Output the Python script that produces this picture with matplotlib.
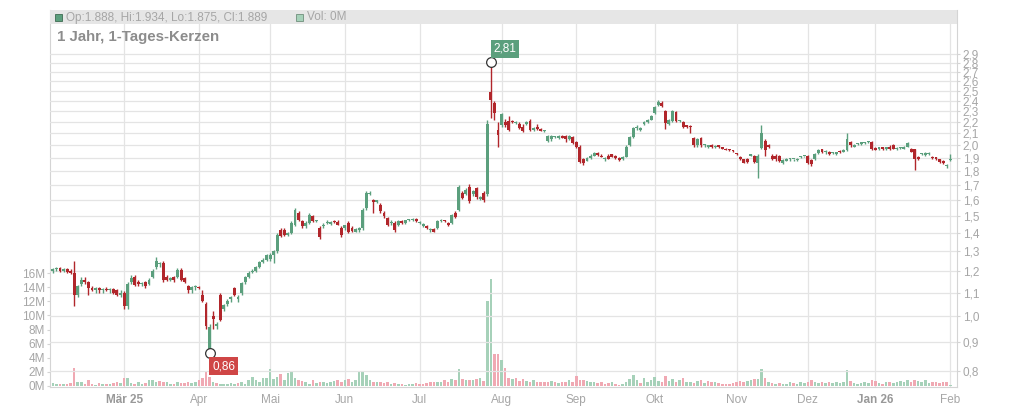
import matplotlib
matplotlib.use("Agg")
import matplotlib.pyplot as plt
import numpy as np
import pandas as pd
from matplotlib.ticker import FixedLocator, FixedFormatter, NullLocator
from matplotlib.patches import Rectangle

plt.rcParams['font.family'] = ['Liberation Sans', 'DejaVu Sans']

# ---------------- data ----------------
holidays = ["2025-04-18", "2025-04-21", "2025-05-01", "2025-12-24",
            "2025-12-25", "2025-12-26", "2025-12-31", "2026-01-01"]

opens = [
    # Feb 25
    1.20, 1.21, 1.215, 1.20, 1.21, 1.20, 1.19, 1.09, 1.14, 1.16, 1.15, 1.12, 1.11, 1.12, 1.11, 1.115, 1.11, 1.115, 1.11, 1.09,
    # Mar
    1.10, 1.04, 1.15, 1.17, 1.15, 1.14, 1.15, 1.14, 1.17, 1.22, 1.235, 1.24, 1.17, 1.16, 1.17, 1.17, 1.205, 1.165, 1.13, 1.11, 1.125,
    # Apr
    1.125, 1.09, 1.05, 0.875, 1.00, 0.96, 1.09, 1.03, 1.05, 1.07, 1.12, 1.07, 1.10, 1.15, 1.17, 1.195, 1.20, 1.22, 1.245, 1.255,
    # May
    1.26, 1.28, 1.30, 1.42, 1.42, 1.39, 1.40, 1.45, 1.52, 1.47, 1.44, 1.46, 1.50, 1.47, 1.43, 1.44, 1.46, 1.455, 1.47, 1.465, 1.43,
    # Jun
    1.43, 1.46, 1.43, 1.41, 1.42, 1.43, 1.55, 1.645, 1.60, 1.59, 1.57, 1.52, 1.49, 1.46, 1.46, 1.45, 1.47, 1.46, 1.475, 1.475, 1.485,
    # Jul
    1.46, 1.44, 1.44, 1.42, 1.425, 1.43, 1.47, 1.475, 1.46, 1.46, 1.52, 1.54, 1.65, 1.64, 1.69, 1.64, 1.68, 1.61, 1.65, 1.64, 2.49, 2.38, 2.13,
    # Aug
    2.17, 2.20, 2.21, 2.21, 2.19, 2.18, 2.16, 2.18, 2.21, 2.13, 2.16, 2.14, 2.12, 2.04, 2.05, 2.07, 2.06, 2.08, 2.08, 2.05, 2.07,
    # Sep
    2.03, 1.99, 1.89, 1.88, 1.90, 1.92, 1.94, 1.92, 1.89, 1.92, 1.93, 1.915, 1.90, 1.89, 1.91, 2.00, 2.07, 2.15, 2.13, 2.18, 2.20, 2.22,
    # Oct
    2.28, 2.36, 2.38, 2.30, 2.18, 2.21, 2.29, 2.21, 2.20, 2.17, 2.165, 2.06, 2.00, 2.06, 2.00, 1.99, 2.00, 1.985, 2.00, 1.985, 1.975, 1.97, 1.96,
    # Nov
    1.935, 1.91, 1.89, 1.89, 1.92, 1.92, 1.86, 1.98, 2.04, 2.00, 1.92, 1.92, 1.92, 1.86, 1.88, 1.89, 1.89, 1.885, 1.91, 1.915,
    # Dec
    1.92, 1.885, 1.89, 1.94, 1.97, 1.945, 1.95, 1.94, 1.93, 1.955, 1.95, 1.96, 2.03, 1.99, 2.01, 2.01, 2.02, 2.025, 2.03,
    # Jan 26
    1.98, 1.97, 1.985, 1.97, 1.99, 2.00, 1.97, 1.98, 1.975, 1.99, 1.975, 1.97, 1.91, 1.93, 1.925, 1.93, 1.91, 1.905, 1.89, 1.88, 1.84,
    # Feb
    1.888,
]

highs = [
    1.215, 1.22, 1.22, 1.215, 1.215, 1.21, 1.25, 1.135, 1.17, 1.17, 1.155, 1.13, 1.125, 1.125, 1.12, 1.125, 1.12, 1.12, 1.115, 1.11,
    1.105, 1.15, 1.18, 1.18, 1.16, 1.15, 1.155, 1.165, 1.21, 1.27, 1.245, 1.25, 1.18, 1.17, 1.175, 1.215, 1.215, 1.17, 1.135, 1.13, 1.135,
    1.13, 1.11, 1.06, 0.97, 1.02, 0.975, 1.10, 1.05, 1.07, 1.085, 1.125, 1.09, 1.15, 1.175, 1.20, 1.21, 1.225, 1.25, 1.265, 1.285,
    1.29, 1.31, 1.40, 1.43, 1.43, 1.41, 1.47, 1.55, 1.53, 1.48, 1.47, 1.52, 1.51, 1.48, 1.44, 1.46, 1.48, 1.47, 1.48, 1.475, 1.44,
    1.45, 1.47, 1.44, 1.43, 1.435, 1.55, 1.66, 1.66, 1.61, 1.605, 1.58, 1.53, 1.495, 1.475, 1.47, 1.48, 1.475, 1.48, 1.485, 1.49, 1.49,
    1.47, 1.46, 1.445, 1.43, 1.43, 1.48, 1.485, 1.48, 1.465, 1.515, 1.53, 1.70, 1.66, 1.68, 1.71, 1.67, 1.69, 1.63, 1.66, 2.22, 2.81, 2.40, 2.20,
    2.28, 2.23, 2.25, 2.22, 2.21, 2.20, 2.18, 2.21, 2.23, 2.16, 2.18, 2.15, 2.13, 2.085, 2.09, 2.08, 2.085, 2.09, 2.09, 2.085, 2.08,
    2.04, 2.00, 1.90, 1.91, 1.93, 1.95, 1.945, 1.93, 1.91, 1.93, 1.935, 1.925, 1.905, 1.915, 2.00, 2.08, 2.16, 2.17, 2.16, 2.21, 2.23, 2.26,
    2.35, 2.41, 2.40, 2.31, 2.23, 2.31, 2.30, 2.22, 2.21, 2.175, 2.17, 2.07, 2.06, 2.07, 2.01, 2.005, 2.01, 2.00, 2.005, 1.99, 1.98, 1.975, 1.965,
    1.94, 1.915, 1.895, 1.90, 1.935, 1.925, 1.93, 2.17, 2.05, 2.01, 1.93, 1.93, 1.925, 1.89, 1.90, 1.90, 1.895, 1.90, 1.92, 1.92,
    1.925, 1.89, 1.94, 1.97, 1.975, 1.96, 1.955, 1.945, 1.95, 1.96, 1.97, 2.10, 2.04, 2.01, 2.02, 2.03, 2.03, 2.04, 2.04,
    1.99, 1.99, 1.99, 1.99, 2.00, 2.01, 1.985, 1.985, 1.995, 2.03, 1.98, 1.975, 1.92, 1.94, 1.945, 1.945, 1.92, 1.91, 1.895, 1.885, 1.855,
    1.934,
]

lows = [
    1.19, 1.20, 1.195, 1.195, 1.19, 1.185, 1.04, 1.08, 1.13, 1.14, 1.09, 1.105, 1.10, 1.10, 1.10, 1.105, 1.10, 1.095, 1.085, 1.08,
    1.03, 1.03, 1.14, 1.13, 1.13, 1.13, 1.12, 1.135, 1.165, 1.21, 1.22, 1.15, 1.155, 1.155, 1.15, 1.165, 1.155, 1.145, 1.10, 1.10, 1.11,
    1.115, 1.06, 0.95, 0.86, 0.95, 0.95, 0.98, 1.02, 1.04, 1.06, 1.085, 1.06, 1.09, 1.14, 1.165, 1.19, 1.195, 1.215, 1.24, 1.25,
    1.25, 1.24, 1.29, 1.38, 1.385, 1.385, 1.395, 1.44, 1.47, 1.43, 1.43, 1.455, 1.465, 1.465, 1.37, 1.43, 1.455, 1.45, 1.46, 1.445, 1.38,
    1.42, 1.40, 1.41, 1.405, 1.41, 1.42, 1.54, 1.635, 1.52, 1.58, 1.52, 1.49, 1.44, 1.45, 1.41, 1.44, 1.455, 1.455, 1.47, 1.47, 1.465,
    1.455, 1.435, 1.425, 1.41, 1.405, 1.425, 1.465, 1.465, 1.44, 1.455, 1.49, 1.53, 1.61, 1.635, 1.58, 1.63, 1.61, 1.605, 1.59, 1.63, 2.24, 2.22, 1.99,
    2.16, 2.16, 2.12, 2.19, 2.18, 2.14, 2.11, 2.17, 2.12, 2.12, 2.13, 2.12, 2.11, 2.03, 2.04, 2.06, 2.055, 2.06, 2.03, 2.045, 2.01,
    1.98, 1.86, 1.85, 1.875, 1.895, 1.915, 1.92, 1.905, 1.88, 1.89, 1.905, 1.895, 1.88, 1.885, 1.905, 1.995, 2.06, 2.13, 2.12, 2.17, 2.19, 2.215,
    2.27, 2.35, 2.34, 2.14, 2.17, 2.20, 2.20, 2.20, 2.15, 2.15, 2.10, 1.99, 1.99, 1.99, 1.99, 1.98, 1.98, 1.98, 1.98, 1.97, 1.96, 1.955, 1.95,
    1.925, 1.885, 1.86, 1.865, 1.915, 1.86, 1.75, 1.97, 1.92, 1.98, 1.885, 1.88, 1.87, 1.855, 1.875, 1.88, 1.88, 1.88, 1.90, 1.91,
    1.855, 1.84, 1.885, 1.935, 1.94, 1.935, 1.925, 1.935, 1.925, 1.94, 1.945, 1.955, 1.99, 1.985, 2.005, 2.005, 2.015, 2.02, 1.96,
    1.96, 1.965, 1.965, 1.965, 1.965, 1.97, 1.965, 1.975, 1.97, 1.985, 1.945, 1.81, 1.885, 1.925, 1.92, 1.925, 1.895, 1.885, 1.865, 1.855, 1.825,
    1.875,
]

closes = [
    1.21, 1.215, 1.20, 1.21, 1.195, 1.19, 1.09, 1.13, 1.16, 1.15, 1.12, 1.11, 1.12, 1.11, 1.115, 1.11, 1.115, 1.10, 1.09, 1.10,
    1.04, 1.14, 1.165, 1.135, 1.14, 1.145, 1.13, 1.16, 1.20, 1.25, 1.24, 1.16, 1.16, 1.165, 1.16, 1.205, 1.16, 1.15, 1.11, 1.125, 1.13,
    1.12, 1.065, 0.96, 0.955, 0.99, 0.97, 0.985, 1.045, 1.065, 1.08, 1.09, 1.08, 1.145, 1.17, 1.19, 1.20, 1.22, 1.245, 1.255, 1.28,
    1.28, 1.30, 1.39, 1.385, 1.39, 1.40, 1.46, 1.54, 1.48, 1.44, 1.46, 1.51, 1.47, 1.475, 1.38, 1.45, 1.465, 1.465, 1.465, 1.45, 1.39,
    1.445, 1.41, 1.415, 1.425, 1.43, 1.54, 1.65, 1.65, 1.59, 1.60, 1.53, 1.50, 1.45, 1.465, 1.42, 1.47, 1.46, 1.475, 1.48, 1.485, 1.47,
    1.465, 1.455, 1.43, 1.425, 1.41, 1.47, 1.48, 1.47, 1.445, 1.51, 1.495, 1.69, 1.615, 1.67, 1.595, 1.66, 1.62, 1.625, 1.60, 2.18, 2.41, 2.28, 2.09,
    2.27, 2.17, 2.13, 2.20, 2.195, 2.15, 2.12, 2.20, 2.13, 2.15, 2.14, 2.125, 2.12, 2.08, 2.08, 2.075, 2.08, 2.065, 2.05, 2.08, 2.02,
    1.99, 1.87, 1.86, 1.90, 1.92, 1.94, 1.925, 1.91, 1.90, 1.895, 1.91, 1.90, 1.885, 1.91, 1.99, 2.07, 2.15, 2.16, 2.15, 2.20, 2.22, 2.25,
    2.34, 2.39, 2.35, 2.19, 2.22, 2.30, 2.21, 2.215, 2.16, 2.16, 2.16, 2.00, 2.05, 2.00, 2.005, 2.00, 1.985, 1.995, 1.99, 1.975, 1.965, 1.96, 1.955,
    1.93, 1.89, 1.865, 1.87, 1.93, 1.87, 1.92, 2.10, 1.96, 1.99, 1.89, 1.89, 1.875, 1.885, 1.895, 1.895, 1.89, 1.895, 1.915, 1.918,
    1.865, 1.855, 1.935, 1.965, 1.945, 1.955, 1.93, 1.94, 1.945, 1.945, 1.965, 2.05, 2.00, 2.005, 2.015, 2.025, 2.025, 2.035, 1.97,
    1.965, 1.985, 1.97, 1.985, 1.97, 1.975, 1.98, 1.98, 1.99, 2.02, 1.95, 1.89, 1.89, 1.93, 1.94, 1.94, 1.90, 1.89, 1.87, 1.86, 1.85,
    1.889,
]

volumes_m = [
    0.45, 0.35, 0.3, 0.35, 0.35, 0.45, 2.6, 0.6, 0.6, 0.3, 0.85, 0.25, 0.2, 0.4, 0.25, 0.25, 0.3, 0.4, 0.5, 0.45,
    1.2, 1.1, 0.4, 0.3, 0.5, 0.25, 0.4, 0.85, 0.85, 0.6, 0.7, 0.6, 0.5, 0.3, 0.3, 0.5, 0.4, 0.4, 0.5, 0.4, 0.6,
    0.85, 1.2, 2.1, 1.3, 0.5, 0.4, 0.3, 0.25, 0.3, 0.4, 0.3, 0.4, 0.6, 0.3, 0.85, 1.3, 0.9, 0.6, 1.2, 1.1,
    2.4, 1.0, 1.3, 1.7, 0.8, 1.9, 2.1, 1.1, 0.9, 0.7, 0.5, 0.3, 0.9, 0.4, 0.5, 0.6, 0.4, 0.5, 0.7, 0.9, 0.6,
    0.8, 1.0, 0.6, 0.9, 2.1, 2.1, 1.5, 0.9, 0.6, 0.5, 0.6, 0.4, 0.5, 0.3, 0.4, 0.3, 0.3, 0.2, 0.3, 0.3, 0.4,
    0.3, 0.3, 0.4, 0.5, 0.6, 0.6, 0.5, 0.9, 0.6, 1.0, 0.8, 2.4, 1.0, 0.9, 0.8, 0.9, 1.0, 1.1, 0.7, 12.0, 15.2, 4.5, 4.6,
    3.7, 2.5, 1.2, 1.0, 1.1, 0.7, 1.0, 0.7, 0.6, 0.8, 0.6, 0.5, 0.6, 0.5, 0.7, 0.5, 0.4, 0.6, 0.5, 0.8, 0.6,
    1.4, 0.9, 0.8, 0.7, 0.5, 0.6, 0.4, 0.5, 0.3, 0.4, 0.6, 0.3, 0.2, 0.3, 0.5, 1.0, 1.6, 0.8, 0.4, 1.1, 0.6, 0.8,
    1.3, 0.7, 0.6, 1.4, 0.7, 1.0, 0.6, 0.9, 1.1, 0.6, 0.5, 0.4, 0.7, 0.9, 0.4, 0.7, 0.6, 0.5, 0.4, 0.3, 0.3, 0.3, 0.4,
    0.6, 0.7, 0.6, 0.7, 0.8, 1.0, 1.0, 2.4, 1.2, 0.6, 0.4, 0.3, 0.4, 0.3, 0.3, 0.5, 0.4, 0.3, 0.6, 0.4,
    0.5, 0.8, 0.6, 0.4, 0.5, 0.4, 0.6, 0.4, 0.5, 0.4, 0.6, 2.3, 0.7, 0.4, 0.3, 0.4, 0.5, 0.4, 0.9,
    0.7, 0.4, 0.3, 0.6, 0.5, 0.4, 0.6, 0.7, 0.5, 0.8, 0.6, 0.9, 0.7, 0.6, 0.8, 0.4, 0.5, 0.6, 0.4, 0.5, 0.6,
    0.2,
]

price_ticks = [0.8, 0.9, 1.0, 1.1, 1.2, 1.3, 1.4, 1.5, 1.6, 1.7, 1.8, 1.9, 2.0,
               2.1, 2.2, 2.3, 2.4, 2.5, 2.6, 2.7, 2.8, 2.9]
price_tick_labels = ["0,8", "0,9", "1,0", "1,1", "1,2", "1,3", "1,4", "1,5", "1,6", "1,7", "1,8",
                     "1,9", "2,0", "2,1", "2,2", "2,3", "2,4", "2,5", "2,6", "2,7", "2,8", "2,9"]
vol_ticks = [0, 2, 4, 6, 8, 10, 12, 14, 16]
vol_tick_labels = ["0M", "2M", "4M", "6M", "8M", "10M", "12M", "14M", "16M"]
month_labels = ["Mär 25", "Apr", "Mai", "Jun", "Jul", "Aug", "Sep", "Okt", "Nov", "Dez", "Jan 26", "Feb"]
bold_month_labels = ["Mär 25", "Jan 26"]
title_text = "1 Jahr, 1-Tages-Kerzen"
legend_ohlc = "Op:1.888, Hi:1.934, Lo:1.875, Cl:1.889"
legend_vol = "Vol: 0M"
max_label = "2,81"
min_label = "0,86"

# ---------------- styling ----------------
GREEN = "#5b9f7d"
RED = "#b1262b"
VGREEN = "#a6d1b9"
VRED = "#f0a9b3"
GRID = "#e4e4e4"
TICKC = "#a6a6a6"
SPINE = "#d4d4d4"

dates = pd.bdate_range("2025-02-03", "2026-02-02")
dates = dates[~dates.isin(pd.to_datetime(holidays))]
n = len(dates)
o = np.array(opens[:n]); h = np.array(highs[:n]); l = np.array(lows[:n]); c = np.array(closes[:n])
v = np.array(volumes_m[:n])
x = np.arange(n)

W, H = 1024, 409
fig = plt.figure(figsize=(W / 100, H / 100), dpi=100)
L0, R0, T0, B0 = 50, 957, 10, 387
ax_v = fig.add_axes([L0 / W, 1 - B0 / H, (R0 - L0) / W, (B0 - T0) / H])
ax_p = ax_v.twinx()

# month ticks: first trading day of each month
month_start = []
prev = None
for i, d in enumerate(dates):
    key = (d.year, d.month)
    if key != prev:
        if prev is not None:
            month_start.append(i)
        prev = key

# volume
prev_close = np.concatenate([[o[0]], c[:-1]])
vcol = [VGREEN if c[i] >= prev_close[i] else VRED for i in range(n)]
ax_v.bar(x, v, width=0.72, color=vcol, linewidth=0, zorder=2)
ax_v.set_ylim(-(B0 - 386) / 7.0625, (386 - T0) / 7.0625)
ax_v.set_xlim(-0.8, n + 0.9)
ax_v.yaxis.set_major_locator(FixedLocator(vol_ticks))
ax_v.yaxis.set_major_formatter(FixedFormatter(vol_tick_labels))
ax_v.xaxis.set_major_locator(FixedLocator(month_start))
ax_v.xaxis.set_major_formatter(FixedFormatter(month_labels))
ax_v.grid(axis='x', color=GRID, linewidth=0.9, zorder=0)
ax_v.set_axisbelow(True)
ax_v.tick_params(axis='y', left=True, length=2.5, width=0.8, color=SPINE, pad=1,
                 labelsize=8.5, labelcolor=TICKC)
ax_v.tick_params(axis='x', length=0, pad=5, labelsize=8.5, labelcolor=TICKC)
for lab in ax_v.get_xticklabels():
    if lab.get_text() in bold_month_labels:
        lab.set_fontweight('bold')
        lab.set_color("#999999")
for s in ['top', 'right']:
    ax_v.spines[s].set_visible(False)
for s in ['left', 'bottom']:
    ax_v.spines[s].set_color(SPINE)
    ax_v.spines[s].set_linewidth(0.8)

# price (log)
ax_p.set_yscale('log')
lp = 246.1
ymin = np.exp(np.log(0.8) - (B0 - 371) / lp)
ymax = np.exp(np.log(2.9) + (54 - T0) / lp)
ax_p.set_ylim(ymin, ymax)
ax_p.yaxis.set_major_locator(FixedLocator(price_ticks))
ax_p.yaxis.set_major_formatter(FixedFormatter(price_tick_labels))
ax_p.yaxis.set_minor_locator(NullLocator())
ax_p.grid(axis='y', which='major', color=GRID, linewidth=0.9)
ax_p.set_axisbelow(True)
ax_p.tick_params(axis='y', right=True, length=2.5, width=0.8, color=SPINE, pad=1.5,
                 labelsize=8.5, labelcolor=TICKC)
for s in ['top', 'left', 'bottom']:
    ax_p.spines[s].set_visible(False)
ax_p.spines['right'].set_color(SPINE)
ax_p.spines['right'].set_linewidth(0.8)

ccol = [GREEN if c[i] >= o[i] else RED for i in range(n)]
ax_p.vlines(x, l, h, colors=ccol, linewidth=1.0, zorder=3)
body_lo = np.minimum(o, c)
body_h = np.maximum(np.abs(c - o), 0.004 * c)
ax_p.bar(x, body_h, bottom=body_lo, width=0.82, color=ccol, linewidth=0, zorder=4)

# max / min markers
imax = int(np.argmax(h)); imin = int(np.argmin(l))
ax_p.plot([imax], [h[imax]], 'o', ms=7, mfc='white', mec='#333333', mew=0.9, zorder=6)
ax_p.plot([imin], [l[imin]], 'o', ms=7, mfc='white', mec='#333333', mew=0.9, zorder=6)
ax_p.annotate(max_label, xy=(imax, h[imax]), xytext=(2, 5), textcoords='offset points',
              ha='left', va='bottom', color='white', fontsize=8.5, zorder=7,
              bbox=dict(boxstyle='square,pad=0.25', fc=GREEN, ec='none'))
ax_p.annotate(min_label, xy=(imin, l[imin]), xytext=(2, -5), textcoords='offset points',
              ha='left', va='top', color='white', fontsize=8.5, zorder=7,
              bbox=dict(boxstyle='square,pad=0.25', fc="#cf4646", ec='none'))

# header bar
bar_h = (24 - T0) / (B0 - T0)
ax_p.add_patch(Rectangle((0, 1 - bar_h), 1, bar_h, transform=ax_p.transAxes,
                         facecolor='#e6e6e6', edgecolor='none', zorder=1, clip_on=False))
fig.add_artist(Rectangle((55 / W, 1 - 21 / H), 7 / W, 7 / H, transform=fig.transFigure,
                         facecolor=GREEN, edgecolor='#3d6b52', linewidth=0.6))
fig.text(66 / W, 1 - 17.5 / H, legend_ohlc, fontsize=8.5, color=TICKC, va='center', ha='left')
fig.add_artist(Rectangle((296 / W, 1 - 21 / H), 7 / W, 7 / H, transform=fig.transFigure,
                         facecolor=VGREEN, edgecolor='#6f8f7c', linewidth=0.6))
fig.text(307 / W, 1 - 17.5 / H, legend_vol, fontsize=8.5, color=TICKC, va='center', ha='left')
fig.text(57 / W, 1 - 37 / H, title_text, fontsize=10.8, fontweight='bold', color='#8c8c8c',
         va='center', ha='left')

fig.savefig("out.png", dpi=100)
